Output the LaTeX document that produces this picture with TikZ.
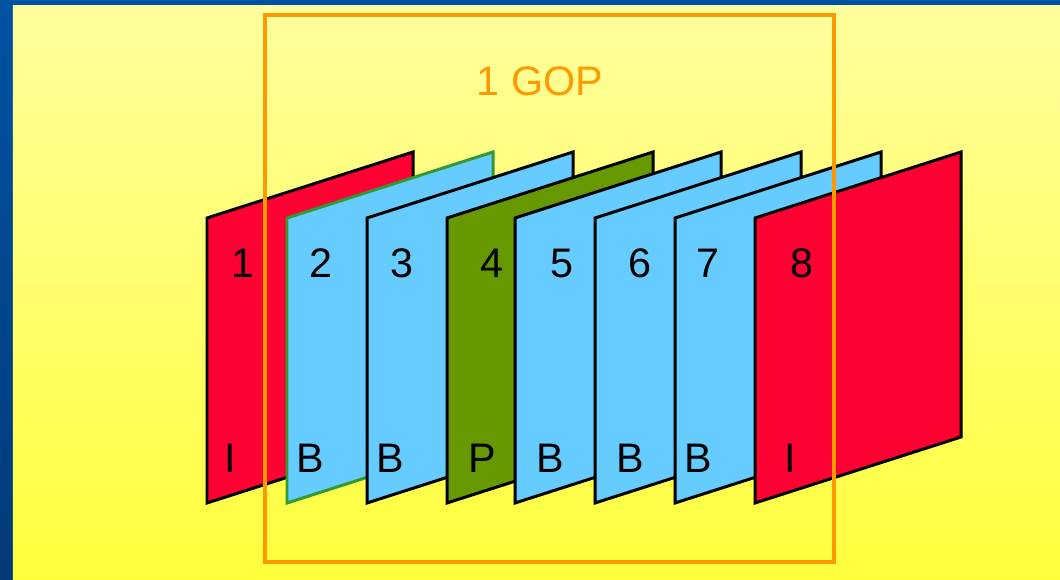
\documentclass[tikz,border=0pt]{standalone}
\usepackage{fontspec}
\setmainfont{Liberation Sans}
\definecolor{azulmarco}{RGB}{0,82,163}
\definecolor{azuloscuro}{RGB}{0,58,120}
\definecolor{amarilloclaro}{RGB}{255,255,158}
\definecolor{amarillo}{RGB}{255,255,60}
\definecolor{rojoI}{RGB}{255,0,51}
\definecolor{celesteB}{RGB}{102,204,255}
\definecolor{verdeP}{RGB}{102,153,0}
\definecolor{verdeborde}{RGB}{51,153,51}
\definecolor{naranja}{RGB}{255,153,0}
\tikzset{
  cuadro/.style={line width=1.7pt, line join=miter},
  tipoI/.style={cuadro, draw=black, fill=rojoI},
  tipoB/.style={cuadro, draw=black, fill=celesteB},
  tipoP/.style={cuadro, draw=black, fill=verdeP},
  etiqueta/.style={font=\fontsize{23.5}{27}\selectfont, inner sep=0pt},
}
\begin{document}
\begin{tikzpicture}
        \useasboundingbox (0,0) rectangle (21.2,11.58);
        % fondo
        \shade [top color=azulmarco, bottom color=azuloscuro] (0,0) rectangle (21.2,11.58);
        \shade [top color=amarilloclaro, bottom color=amarillo] (0.26,0) rectangle (21.2,11.46);
        % cuadros
        \begin{scope}[shift={(4.14,7.22)}]
            \draw [tipoI] (0,0) -- (4.12,1.32) -- (4.12,-4.38) -- (0,-5.7) -- cycle;
            \path (0.72,-0.91) node [etiqueta] (n1) {1};
            \path (0.46,-4.8) node [etiqueta] (t1) {I};
        \end{scope}
        \begin{scope}[shift={(5.74,7.22)}]
            \draw [tipoB,draw=verdeborde] (0,0) -- (4.12,1.32) -- (4.12,-4.38) -- (0,-5.7) -- cycle;
            \path (0.68,-0.91) node [etiqueta] (n2) {2};
            \path (0.46,-4.8) node [etiqueta] (t2) {B};
        \end{scope}
        \begin{scope}[shift={(7.34,7.22)}]
            \draw [tipoB] (0,0) -- (4.12,1.32) -- (4.12,-4.38) -- (0,-5.7) -- cycle;
            \path (0.7,-0.91) node [etiqueta] (n3) {3};
            \path (0.46,-4.8) node [etiqueta] (t3) {B};
        \end{scope}
        \begin{scope}[shift={(8.94,7.22)}]
            \draw [tipoP] (0,0) -- (4.12,1.32) -- (4.12,-4.38) -- (0,-5.7) -- cycle;
            \path (0.9,-0.91) node [etiqueta] (n4) {4};
            \path (0.7,-4.8) node [etiqueta] (t4) {P};
        \end{scope}
        \begin{scope}[shift={(10.3,7.22)}]
            \draw [tipoB] (0,0) -- (4.12,1.32) -- (4.12,-4.38) -- (0,-5.7) -- cycle;
            \path (0.94,-0.91) node [etiqueta] (n5) {5};
            \path (0.7,-4.8) node [etiqueta] (t5) {B};
        \end{scope}
        \begin{scope}[shift={(11.9,7.22)}]
            \draw [tipoB] (0,0) -- (4.12,1.32) -- (4.12,-4.38) -- (0,-5.7) -- cycle;
            \path (0.9,-0.91) node [etiqueta] (n6) {6};
            \path (0.7,-4.8) node [etiqueta] (t6) {B};
        \end{scope}
        \begin{scope}[shift={(13.5,7.22)}]
            \draw [tipoB] (0,0) -- (4.12,1.32) -- (4.12,-4.38) -- (0,-5.7) -- cycle;
            \path (0.66,-0.91) node [etiqueta] (n7) {7};
            \path (0.46,-4.8) node [etiqueta] (t7) {B};
        \end{scope}
        \begin{scope}[shift={(15.1,7.22)}]
            \draw [tipoI] (0,0) -- (4.12,1.32) -- (4.12,-4.38) -- (0,-5.7) -- cycle;
            \path (0.94,-0.91) node [etiqueta] (n8) {8};
            \path (0.7,-4.8) node [etiqueta] (t8) {I};
        \end{scope}
        % GOP
        \draw [naranja, line width=2pt] (5.3,0.34) rectangle (16.68,11.28);
        \path (10.8,9.95) node [etiqueta, text=naranja] (gop) {1 GOP};
    \end{tikzpicture}
\end{document}
